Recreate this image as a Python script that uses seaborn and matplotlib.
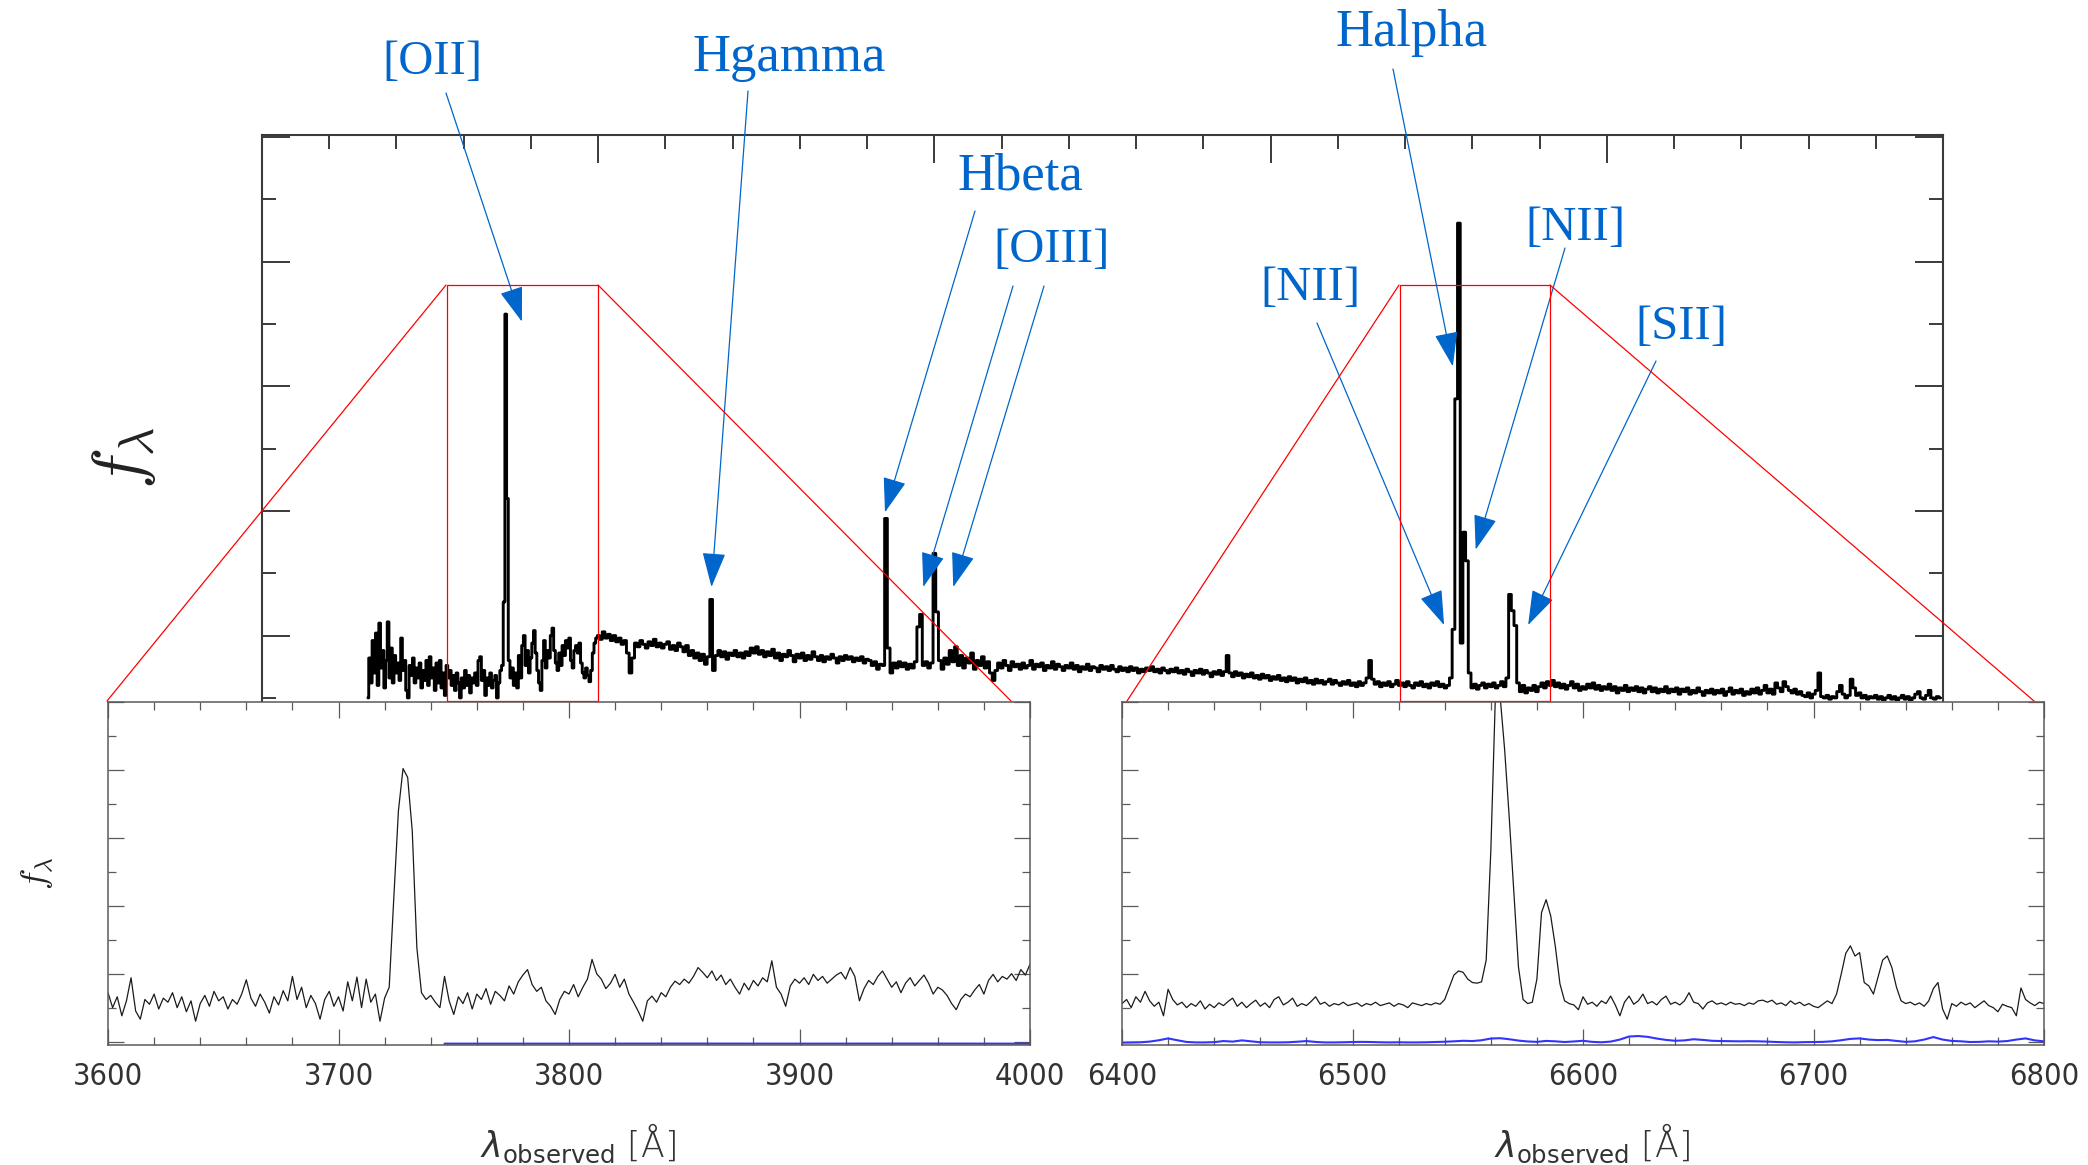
import numpy as np
import matplotlib
matplotlib.use("Agg")
import matplotlib.pyplot as plt
from matplotlib.lines import Line2D
from matplotlib.patches import Rectangle
from matplotlib.ticker import MultipleLocator
import seaborn as sns

# ---------------------------------------------------------------- data
# full spectrum: noisy blue end sampled every 5 A, the rest every 8 A
blue_start, blue_step = 3315, 5
blue_flux = [
    0.50, 0.82, 0.62, 0.96, 0.70, 1.02, 0.60, 1.10, 0.74, 0.88,
    0.58, 0.80, 1.11, 0.66, 0.90, 0.62, 0.84, 0.70, 0.78, 0.64,
    0.98, 0.72, 0.80, 0.56, 0.50, 0.76, 0.68, 0.82, 0.62, 0.74,
    0.66, 0.78, 0.58, 0.72, 0.64, 0.80, 0.60, 0.83, 0.66, 0.74,
    0.56, 0.78, 0.62, 0.80, 0.58, 0.70, 0.52, 0.76, 0.66, 0.72,
    0.60, 0.68, 0.56, 0.70, 0.62, 0.50, 0.66, 0.58, 0.72, 0.60,
    0.68, 0.54, 0.66, 0.62, 0.70, 0.60, 0.80, 0.83, 0.64, 0.72,
    0.52, 0.66, 0.60, 0.70, 0.58, 0.64, 0.68, 0.50, 0.62, 0.72,
    0.76, 1.27, 3.58, 2.10, 0.80, 0.66, 0.74, 0.60, 0.70, 0.58,
    0.84, 0.66, 0.92, 1.00, 0.76, 0.88, 0.70, 0.82, 0.94, 1.04,
    0.86, 0.72, 0.62, 0.56, 0.80, 0.96, 0.74, 0.88, 0.82, 1.00,
    1.06, 0.88, 0.78, 0.72, 0.86, 0.76, 0.92, 0.84, 0.96, 0.90,
    0.98, 0.80, 0.74, 0.88, 0.92, 0.86, 0.94, 0.78, 0.70, 0.66,
    0.74, 0.68, 0.63, 0.72, 0.86, 0.94, 0.98,
]
red_start, red_step = 4000, 8
red_flux = [
    1.00, 0.97, 1.03, 0.98, 1.01, 0.96, 1.00, 0.95, 0.98, 0.93,
    0.96, 0.86, 0.70, 0.82, 0.94, 0.91, 0.96, 0.93, 0.90, 0.95,
    0.92, 0.97, 0.91, 0.94, 0.90, 0.93, 0.95, 0.89, 0.92, 0.88,
    0.94, 0.91, 0.87, 0.92, 0.84, 0.88, 0.82, 0.86, 0.80, 0.85,
    0.77, 0.83, 1.29, 0.72, 0.84, 0.88, 0.83, 0.87, 0.81, 0.86,
    0.84, 0.88, 0.83, 0.86, 0.82, 0.87, 0.84, 0.90, 0.86, 0.91,
    0.85, 0.88, 0.83, 0.87, 0.84, 0.89, 0.82, 0.86, 0.80, 0.85,
    0.83, 0.88, 0.84, 0.79, 0.85, 0.82, 0.86, 0.80, 0.84, 0.81,
    0.87, 0.83, 0.80, 0.84, 0.79, 0.83, 0.81, 0.85, 0.82, 0.78,
    0.83, 0.80, 0.84, 0.81, 0.83, 0.79, 0.82, 0.80, 0.83, 0.78,
    0.81, 0.80, 0.76, 0.79, 0.73, 0.77, 0.76, 1.94, 0.90, 0.70,
    0.78, 0.74, 0.79, 0.75, 0.78, 0.73, 0.77, 0.74, 0.79, 1.07,
    1.17, 0.76, 0.79, 0.74, 0.78, 1.66, 1.19, 0.80, 0.73, 0.82,
    0.77, 0.88, 0.79, 0.91, 0.76, 0.84, 0.74, 0.82, 0.78, 0.86,
    0.73, 0.80, 0.76, 0.83, 0.74, 0.79, 0.70, 0.64, 0.72, 0.78,
    0.74, 0.80, 0.76, 0.72, 0.79, 0.75, 0.77, 0.73, 0.78, 0.74,
    0.76, 0.80, 0.73, 0.77, 0.75, 0.78, 0.72, 0.76, 0.74, 0.79,
    0.73, 0.77, 0.75, 0.72, 0.76, 0.74, 0.78, 0.73, 0.76, 0.71,
    0.75, 0.73, 0.77, 0.72, 0.75, 0.74, 0.71, 0.76, 0.73, 0.75,
    0.72, 0.76, 0.73, 0.71, 0.75, 0.72, 0.74, 0.71, 0.75, 0.72,
    0.74, 0.70, 0.73, 0.71, 0.74, 0.72, 0.75, 0.71, 0.73, 0.70,
    0.74, 0.72, 0.70, 0.73, 0.71, 0.74, 0.70, 0.72, 0.69, 0.73,
    0.71, 0.68, 0.72, 0.70, 0.73, 0.69, 0.72, 0.70, 0.67, 0.71,
    0.69, 0.72, 0.68, 0.71, 0.84, 0.70, 0.67, 0.71, 0.68, 0.70,
    0.66, 0.69, 0.67, 0.70, 0.66, 0.68, 0.65, 0.69, 0.66, 0.68,
    0.64, 0.67, 0.65, 0.68, 0.64, 0.66, 0.63, 0.67, 0.64, 0.66,
    0.62, 0.65, 0.63, 0.66, 0.62, 0.64, 0.61, 0.65, 0.62, 0.64,
    0.61, 0.63, 0.65, 0.61, 0.64, 0.62, 0.60, 0.63, 0.61, 0.64,
    0.60, 0.62, 0.59, 0.63, 0.60, 0.62, 0.66, 0.80, 0.65, 0.61,
    0.63, 0.59, 0.62, 0.60, 0.63, 0.59, 0.61, 0.64, 0.60, 0.62,
    0.59, 0.63, 0.60, 0.58, 0.62, 0.60, 0.63, 0.59, 0.61, 0.58,
    0.62, 0.60, 0.63, 0.59, 0.61, 0.58, 0.60, 0.66, 1.05, 2.90,
    4.31, 0.94, 1.83, 1.60, 0.70, 0.58, 0.61, 0.57, 0.60, 0.62,
    0.58, 0.61, 0.59, 0.62, 0.58, 0.60, 0.63, 0.59, 0.66, 1.33,
    1.20, 1.08, 0.62, 0.55, 0.60, 0.54, 0.58, 0.56, 0.60, 0.55,
    0.59, 0.62, 0.58, 0.63, 0.60, 0.64, 0.59, 0.62, 0.58, 0.61,
    0.57, 0.60, 0.63, 0.58, 0.61, 0.56, 0.59, 0.57, 0.61, 0.58,
    0.62, 0.57, 0.60, 0.56, 0.59, 0.57, 0.61, 0.56, 0.59, 0.54,
    0.58, 0.56, 0.60, 0.55, 0.58, 0.56, 0.59, 0.55, 0.58, 0.54,
    0.57, 0.59, 0.55, 0.58, 0.54, 0.57, 0.55, 0.59, 0.54, 0.57,
    0.55, 0.58, 0.53, 0.57, 0.55, 0.58, 0.53, 0.56, 0.54, 0.58,
    0.55, 0.52, 0.56, 0.54, 0.57, 0.53, 0.56, 0.54, 0.57, 0.52,
    0.55, 0.58, 0.53, 0.56, 0.54, 0.57, 0.52, 0.55, 0.53, 0.57,
    0.54, 0.58, 0.53, 0.56, 0.60, 0.54, 0.57, 0.53, 0.62, 0.58,
    0.55, 0.63, 0.59, 0.56, 0.54, 0.57, 0.53, 0.55, 0.52, 0.51,
    0.54, 0.50, 0.53, 0.56, 0.70, 0.51, 0.50, 0.52, 0.49, 0.51,
    0.50, 0.55, 0.60, 0.53, 0.50, 0.52, 0.65, 0.58, 0.52, 0.54,
    0.50, 0.52, 0.49, 0.51, 0.50, 0.52, 0.49, 0.51, 0.48, 0.50,
    0.52, 0.49, 0.51, 0.48, 0.50, 0.52, 0.49, 0.51, 0.48, 0.50,
    0.53, 0.55, 0.50, 0.49, 0.52, 0.56, 0.50, 0.49, 0.51, 0.50,
]

# zoom on the [OII] region, sampled every 2 A
oii_start, oii_step = 3600, 2
oii_flux = [
    0.72, 0.50, 0.66, 0.38, 0.60, 0.94, 0.45, 0.33, 0.62, 0.55,
    0.70, 0.48, 0.64, 0.58, 0.72, 0.50, 0.66, 0.44, 0.60, 0.30,
    0.56, 0.68, 0.52, 0.74, 0.60, 0.66, 0.48, 0.62, 0.55, 0.70,
    0.91, 0.64, 0.52, 0.70, 0.58, 0.42, 0.66, 0.54, 0.75, 0.60,
    0.96, 0.62, 0.80, 0.50, 0.68, 0.56, 0.33, 0.62, 0.74, 0.52,
    0.66, 0.45, 0.88, 0.60, 0.95, 0.50, 0.92, 0.58, 0.70, 0.30,
    0.64, 0.80, 2.12, 3.40, 4.02, 3.89, 3.10, 1.38, 0.72, 0.62,
    0.68, 0.58, 0.50, 0.96, 0.60, 0.40, 0.66, 0.56, 0.72, 0.48,
    0.70, 0.62, 0.78, 0.55, 0.74, 0.68, 0.60, 0.82, 0.70, 0.88,
    0.98, 1.06, 0.84, 0.74, 0.80, 0.60, 0.52, 0.40, 0.62, 0.74,
    0.70, 0.84, 0.66, 0.80, 0.92, 1.21, 1.00, 0.92, 0.78, 0.86,
    0.99, 0.80, 0.92, 0.70, 0.58, 0.45, 0.30, 0.60, 0.67, 0.58,
    0.72, 0.66, 0.80, 0.89, 0.84, 0.92, 0.86, 0.96, 1.09, 1.02,
    0.94, 1.04, 0.90, 0.98, 0.84, 0.92, 0.80, 0.70, 0.86, 0.76,
    0.90, 0.82, 0.94, 0.88, 1.19, 0.80, 0.70, 0.52, 0.82, 0.92,
    0.86, 0.94, 0.84, 0.99, 0.90, 0.96, 0.86, 0.92, 0.98, 1.02,
    0.92, 1.09, 0.96, 0.60, 0.78, 0.90, 0.84, 0.96, 1.04, 0.92,
    0.80, 0.88, 0.72, 0.86, 0.94, 0.82, 0.90, 0.98, 0.86, 0.70,
    0.80, 0.76, 0.68, 0.56, 0.47, 0.62, 0.70, 0.66, 0.76, 0.84,
    0.70, 0.90, 0.99, 0.88, 0.96, 0.92, 1.00, 0.90, 1.06, 0.98,
    1.14,
]
oii_err_wave = [3746, 3800, 3850, 3900, 3950, 4000]
oii_err = [-0.030, -0.030, -0.029, -0.030, -0.029, -0.030]

# zoom on the Halpha / [NII] / [SII] region, sampled every 2 A
ha_start, ha_step = 6400, 2
ha_flux = [
    0.56, 0.62, 0.50, 0.66, 0.58, 0.74, 0.60, 0.52, 0.58, 0.38,
    0.77, 0.62, 0.54, 0.58, 0.50, 0.56, 0.52, 0.60, 0.48, 0.55,
    0.50, 0.57, 0.53, 0.59, 0.64, 0.52, 0.58, 0.50, 0.56, 0.61,
    0.52, 0.57, 0.50, 0.62, 0.66, 0.54, 0.58, 0.64, 0.52, 0.56,
    0.53, 0.59, 0.66, 0.55, 0.58, 0.52, 0.56, 0.54, 0.58, 0.53,
    0.55, 0.57, 0.52, 0.56, 0.54, 0.58, 0.53, 0.55, 0.57, 0.52,
    0.56, 0.54, 0.50, 0.57, 0.55, 0.53, 0.56, 0.54, 0.57, 0.55,
    0.62, 0.80, 0.98, 1.04, 1.02, 0.92, 0.87, 0.86, 0.88, 1.20,
    2.80, 5.10, 5.10, 4.30, 3.30, 2.20, 1.10, 0.62, 0.56, 0.58,
    0.92, 1.90, 2.09, 1.85, 1.40, 0.85, 0.60, 0.56, 0.54, 0.47,
    0.66, 0.55, 0.58, 0.52, 0.60, 0.56, 0.67, 0.54, 0.38, 0.58,
    0.67, 0.55, 0.60, 0.70, 0.56, 0.59, 0.54, 0.62, 0.67, 0.55,
    0.58, 0.54, 0.60, 0.72, 0.58, 0.56, 0.48, 0.57, 0.60, 0.55,
    0.57, 0.54, 0.58, 0.55, 0.56, 0.53, 0.57, 0.55, 0.60, 0.61,
    0.58, 0.61, 0.55, 0.57, 0.53, 0.60, 0.55, 0.58, 0.53, 0.56,
    0.52, 0.50, 0.55, 0.60, 0.56, 0.70, 0.99, 1.30, 1.41, 1.26,
    1.31, 0.87, 0.82, 0.70, 0.95, 1.20, 1.26, 1.09, 0.80, 0.60,
    0.56, 0.58, 0.54, 0.57, 0.52, 0.60, 0.78, 0.87, 0.48, 0.33,
    0.56, 0.52, 0.58, 0.54, 0.57, 0.50, 0.55, 0.60, 0.53, 0.50,
    0.44, 0.55, 0.52, 0.50, 0.38, 0.79, 0.62, 0.57, 0.53, 0.58,
    0.56,
]
ha_err_start, ha_err_step = 6400, 4
ha_err = [
    -0.015, -0.012, -0.010, 0.000, 0.020, 0.047, 0.020, -0.005, -0.012, -0.012,
    -0.008, 0.008, 0.000, 0.018, 0.004, -0.010, -0.012, -0.012, -0.010, -0.002,
    0.008, -0.005, -0.012, -0.012, -0.010, -0.006, -0.004, -0.006, -0.010, -0.012,
    -0.010, -0.012, -0.012, -0.010, -0.006, -0.002, 0.004, 0.012, 0.008, 0.020,
    0.045, 0.050, 0.035, 0.015, 0.002, -0.004, 0.010, 0.004, -0.006, 0.002,
    0.012, -0.004, -0.010, 0.000, 0.030, 0.075, 0.082, 0.070, 0.045, 0.025,
    0.012, 0.018, 0.035, 0.025, 0.012, 0.008, 0.006, 0.004, 0.006, 0.004,
    0.000, -0.006, -0.010, -0.012, -0.008, -0.006, -0.004, 0.004, 0.020, 0.040,
    0.047, 0.030, 0.022, 0.025, 0.010, -0.004, 0.004, 0.030, 0.067, 0.030,
    0.010, 0.004, -0.006, -0.004, 0.004, 0.000, 0.008, 0.030, 0.047, 0.018,
    0.004,
]

# wavelength windows
main_range = (3000, 8000)
oii_range = (3600, 4000)
ha_range = (6400, 6800)
oii_box = (3550, 4000)
ha_box = (6385, 6830)

# line labels and where their arrows point (wavelength, flux)
line_labels = ["[OII]", "Hgamma", "Hbeta", "[OIII]", "[NII]", "Halpha", "[NII]", "[SII]"]
label_size = [35, 38, 38, 35, 35, 38, 35, 35]
label_px = [(432, 74), (789, 71), (1020, 189), (1052, 262),
            (1310, 300), (1412, 46), (1575, 240), (1681, 339)]
arrow_tails_px = [[(446, 93)], [(748, 91)], [(975, 211)],
                  [(1013, 286), (1044, 286)], [(1317, 323)],
                  [(1393, 69)], [(1565, 248)], [(1656, 361)]]
arrow_heads = [[(3773, 3.52)], [(4337, 1.39)], [(4853, 1.99)],
               [(4967, 1.39), (5056, 1.39)], [(6516, 1.085)],
               [(6542, 3.16)], [(6610, 1.69)], [(6766, 1.085)]]

# ---------------------------------------------------------------- figure
sns.set_theme(style="white")
plt.rcParams["font.family"] = ["DejaVu Sans"]

W, H = 2088, 1165
DPI = 100
fig = plt.figure(figsize=(W / DPI, H / DPI), dpi=DPI, facecolor="white")


def fig_rect(x0, y0, x1, y1):
    return [x0 / W, 1 - y1 / H, (x1 - x0) / W, (y1 - y0) / H]


def fig_xy(x, y):
    return (x / W, 1 - y / H)


blue_ann = "#0066cc"
spine_dark = "#3a3a3a"
spine_grey = "#5a5a5a"

# main spectrum
ax = fig.add_axes(fig_rect(262, 134.7, 1943, 701))
main_wave = np.concatenate([blue_start + blue_step * np.arange(len(blue_flux)),
                            red_start + red_step * np.arange(len(red_flux))])
main_flux = np.concatenate([blue_flux, red_flux])
sns.lineplot(x=main_wave, y=main_flux, ax=ax, color="black", linewidth=2.1,
             drawstyle="steps-mid", estimator=None, sort=False)
ax.set_xlim(*main_range)
ax.set_ylim(0.475, 5.02)
ax.xaxis.set_major_locator(MultipleLocator(1000))
ax.xaxis.set_minor_locator(MultipleLocator(200))
ax.yaxis.set_major_locator(MultipleLocator(1))
ax.yaxis.set_minor_locator(MultipleLocator(0.5))
ax.tick_params(which="both", direction="in", top=True, right=True, left=True,
               bottom=False, labelbottom=False, labelleft=False,
               color=spine_dark, width=1.4)
ax.tick_params(which="major", length=20)
ax.tick_params(which="minor", length=10)
ax.spines["bottom"].set_visible(False)
for side in ("top", "left", "right"):
    ax.spines[side].set_color(spine_dark)
    ax.spines[side].set_linewidth(1.5)
ax.set_xlabel("")
ax.set_ylabel("")

# zoom boxes on the main spectrum
for x0, x1 in (oii_box, ha_box):
    ax.add_patch(Rectangle((x0, 0.475), x1 - x0, 3.814 - 0.475, fill=False,
                           edgecolor="red", linewidth=0.9, zorder=5,
                           clip_on=False))

fig.text(*fig_xy(124, 458), r"$f_\lambda$", rotation=90, fontsize=50,
         ha="center", va="center", math_fontfamily="cm", color="#222222")


def style_zoom(axz, xr):
    axz.set_xlim(*xr)
    axz.set_ylim(-0.05, 5.0)
    axz.xaxis.set_major_locator(MultipleLocator(100))
    axz.xaxis.set_minor_locator(MultipleLocator(20))
    axz.yaxis.set_major_locator(MultipleLocator(1))
    axz.yaxis.set_minor_locator(MultipleLocator(0.5))
    axz.tick_params(which="both", direction="in", top=True, right=True,
                    left=True, bottom=True, labelleft=False,
                    color=spine_grey, width=0.9)
    axz.tick_params(which="major", length=11.5, labelsize=22,
                    labelcolor="#333333", pad=12)
    axz.tick_params(which="minor", length=5.8)
    for lbl in axz.get_xticklabels():
        lbl.set_fontweight("light")
        lbl.set_fontstretch("condensed")
    for side in axz.spines.values():
        side.set_color(spine_grey)
        side.set_linewidth(1.1)
    axz.set_ylabel("")
    axz.set_xlabel(r"$\lambda_{\rm observed}$ [Å]", fontsize=25,
                   color="#333333", fontweight="light")
    axz.xaxis.set_label_coords(0.51, -0.225)


# [OII] zoom
ax_l = fig.add_axes(fig_rect(108, 702, 1030, 1045))
ax_l.set_facecolor("white")
ax_l.set_zorder(3)
oii_wave = oii_start + oii_step * np.arange(len(oii_flux))
sns.lineplot(x=oii_wave, y=oii_flux, ax=ax_l, color="#1a1a1a", linewidth=0.9,
             estimator=None, sort=False)
sns.lineplot(x=oii_err_wave, y=oii_err, ax=ax_l, color="#3333ff",
             linewidth=1.5, estimator=None, sort=False)
style_zoom(ax_l, oii_range)
fig.text(*fig_xy(38, 873), r"$f_\lambda$", rotation=90, fontsize=26,
         ha="center", va="center", math_fontfamily="cm", color="#222222")

# Halpha zoom
ax_r = fig.add_axes(fig_rect(1122, 702, 2044, 1045))
ax_r.set_facecolor("white")
ax_r.set_zorder(3)
ha_wave = ha_start + ha_step * np.arange(len(ha_flux))
ha_err_wave = ha_err_start + ha_err_step * np.arange(len(ha_err))
sns.lineplot(x=ha_wave, y=ha_flux, ax=ax_r, color="#1a1a1a", linewidth=0.9,
             estimator=None, sort=False)
sns.lineplot(x=ha_err_wave, y=ha_err, ax=ax_r, color="#3333ff",
             linewidth=1.5, estimator=None, sort=False)
style_zoom(ax_r, ha_range)

# lines tying each box to its zoom panel
for (xa, ya), (xb, yb) in [((446, 285), (107, 701)), ((598, 285), (1011, 701)),
                           ((1399, 285), (1127, 701)), ((1550, 285), (2034, 701))]:
    fig.add_artist(Line2D([xa / W, xb / W], [1 - ya / H, 1 - yb / H],
                          transform=fig.transFigure, color="red",
                          linewidth=0.9, zorder=6))

# emission line labels with arrows
for name, size, (tx, ty), tails, heads in zip(line_labels, label_size, label_px,
                                              arrow_tails_px, arrow_heads):
    fig.text(*fig_xy(tx, ty), name, ha="center", va="baseline", fontsize=size,
             color=blue_ann, family=["Liberation Serif", "DejaVu Serif"])
    for (sx, sy), head in zip(tails, heads):
        ax.annotate("", xy=head, xycoords="data",
                    xytext=(sx, H - sy), textcoords="figure pixels",
                    annotation_clip=False,
                    arrowprops=dict(arrowstyle="-|>,head_length=1.1,head_width=0.37",
                                    mutation_scale=20, color=blue_ann,
                                    linewidth=0.9, shrinkA=0, shrinkB=0))

fig.savefig("out.png", dpi=DPI, facecolor="white")
